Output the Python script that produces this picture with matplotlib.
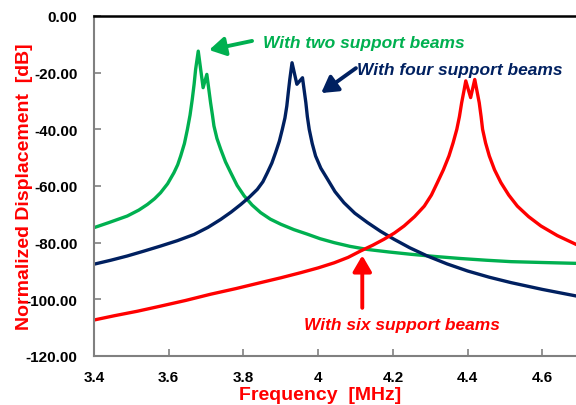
import matplotlib
matplotlib.use("Agg")
import matplotlib.pyplot as plt

plt.rcParams['font.family'] = ['Liberation Sans', 'DejaVu Sans']

# Two support beams (green)
f_two = [3.40, 3.44, 3.489, 3.52, 3.543, 3.562, 3.578, 3.597, 3.614, 3.624, 3.632, 3.642,
         3.650, 3.657, 3.663, 3.668, 3.672, 3.679, 3.692, 3.702, 3.712, 3.717, 3.721, 3.729,
         3.739, 3.752, 3.766, 3.783, 3.802, 3.823, 3.846, 3.872, 3.90, 3.935, 3.971, 4.005,
         4.043, 4.085, 4.132, 4.19, 4.248, 4.315, 4.382, 4.45, 4.516, 4.60, 4.69]
db_two = [-74.7, -72.9, -70.6, -68.5, -66.5, -64.5, -62.4, -59.2, -55.3, -52.5, -49.4, -45.0,
          -40.0, -35.0, -29.4, -24.0, -18.8, -12.4, -25.3, -20.6, -30.6, -35.0, -38.8, -43.2,
          -47.0, -51.5, -55.3, -59.8, -63.5, -66.7, -69.4, -71.7, -73.5, -75.4, -77.0, -78.6,
          -80.0, -81.3, -82.4, -83.3, -84.1, -84.9, -85.6, -86.2, -86.7, -87.0, -87.3]

# Four support beams (navy)
f_four = [3.40, 3.445, 3.489, 3.533, 3.578, 3.623, 3.668, 3.705, 3.739, 3.767, 3.793, 3.816,
          3.837, 3.852, 3.864, 3.876, 3.886, 3.896, 3.904, 3.911, 3.916, 3.920, 3.924, 3.930,
          3.943, 3.958, 3.967, 3.971, 3.976, 3.984, 3.993, 4.007, 4.025, 4.045, 4.069, 4.098,
          4.132, 4.167, 4.203, 4.245, 4.292, 4.345, 4.40, 4.458, 4.516, 4.60, 4.69]
db_four = [-87.6, -86.2, -84.7, -83.0, -81.2, -79.3, -77.1, -74.6, -71.8, -69.2, -66.5, -63.9,
           -61.2, -58.5, -55.3, -51.9, -48.2, -44.2, -40.0, -36.0, -31.8, -27.0, -22.4, -16.5,
           -24.1, -21.8, -30.6, -35.5, -40.0, -45.0, -49.4, -53.7, -57.6, -62.0, -65.9, -69.6,
           -72.9, -76.0, -78.8, -81.8, -84.7, -87.5, -90.0, -92.2, -94.1, -96.5, -98.8]

# Six support beams (red)
f_six = [3.40, 3.454, 3.516, 3.578, 3.645, 3.712, 3.78, 3.846, 3.90, 3.953, 4.0, 4.043, 4.08,
         4.114, 4.146, 4.176, 4.204, 4.23, 4.258, 4.284, 4.303, 4.319, 4.335, 4.350, 4.361,
         4.371, 4.378, 4.384, 4.390, 4.395, 4.408, 4.419, 4.425, 4.431, 4.436, 4.440, 4.448,
         4.458, 4.472, 4.489, 4.51, 4.533, 4.563, 4.596, 4.64, 4.69]
db_six = [-107.3, -105.8, -104.2, -102.4, -100.4, -98.2, -96.2, -94.1, -92.4, -90.6, -88.9,
          -87.1, -85.2, -82.9, -80.9, -78.8, -76.6, -74.1, -70.8, -67.1, -63.2, -58.8, -54.3,
          -49.4, -44.8, -40.0, -35.5, -30.6, -26.5, -22.9, -28.8, -22.4, -26.5, -30.6, -35.5,
          -40.0, -44.8, -49.4, -54.3, -58.8, -63.2, -67.1, -70.8, -74.1, -77.5, -80.6]

x_ticks = [3.4, 3.6, 3.8, 4.0, 4.2, 4.4, 4.6]
x_ticklabels = ['3.4', '3.6', '3.8', '4', '4.2', '4.4', '4.6']
y_ticks = [0, -20, -40, -60, -80, -100, -120]

GREEN = '#00B050'
NAVY = '#002060'
RED = '#FF0000'

fig = plt.figure(figsize=(5.76, 4.06), dpi=100)
ax = fig.add_axes([94/576, 49/406, 1 - 94/576, (357-17)/406])

lw = 2.4
ax.plot(f_two, db_two, color=GREEN, lw=lw, solid_joinstyle='round')
ax.plot(f_four, db_four, color=NAVY, lw=lw, solid_joinstyle='round')
ax.plot(f_six, db_six, color=RED, lw=lw, solid_joinstyle='round')

ax.set_xlim(3.4, 4.69)
ax.set_ylim(-120, 0)
ax.set_xticks(x_ticks)
ax.set_xticklabels(x_ticklabels)
ax.set_yticks(y_ticks)
ax.set_yticklabels([f'{v:.2f}' for v in y_ticks])

for lab in ax.get_xticklabels() + ax.get_yticklabels():
    lab.set_fontweight('bold')
    lab.set_fontsize(11)

ax.tick_params(axis='both', direction='in', length=5, width=1.2, color='#808080')
ax.tick_params(axis='y', pad=12)
ax.tick_params(axis='x', pad=10)

ax.spines['right'].set_visible(False)
ax.spines['left'].set_color('#808080')
ax.spines['bottom'].set_color('#808080')
ax.spines['left'].set_linewidth(1.5)
ax.spines['bottom'].set_linewidth(1.5)
ax.spines['top'].set_color('black')
ax.spines['top'].set_linewidth(1.8)

ax.set_ylabel('Normalized Displacement  [dB]', color=RED, fontsize=14, fontweight='bold')
ax.yaxis.set_label_coords(-0.127, 0.5)
fig.text(320/576, 1 - 396/406, 'Frequency  [MHz]', color=RED, fontsize=14, fontweight='bold',
         ha='center', va='center')

tkw = dict(fontsize=12.5, fontweight='bold', fontstyle='italic')
ax.text(3.852, -9.4, 'With two support beams', color=GREEN, va='center', ha='left', **tkw)
ax.text(4.104, -18.9, 'With four support beams', color=NAVY, va='center', ha='left', **tkw)
ax.text(4.225, -108.9, 'With six support beams', color=RED, va='center', ha='center', **tkw)

ap = dict(arrowstyle='-|>,head_length=0.6,head_width=0.35', lw=2.8, mutation_scale=16,
          shrinkA=0, shrinkB=0)
ax.annotate('', xy=(3.708, -12.0), xytext=(3.823, -8.8), arrowprops=dict(color=GREEN, **ap))
ax.annotate('', xy=(4.008, -27.2), xytext=(4.101, -18.4), arrowprops=dict(color=NAVY, **ap))
ax.annotate('', xy=(4.118, -84.5), xytext=(4.118, -103.0), arrowprops=dict(color=RED, **ap))

fig.savefig('out.png', dpi=100)
